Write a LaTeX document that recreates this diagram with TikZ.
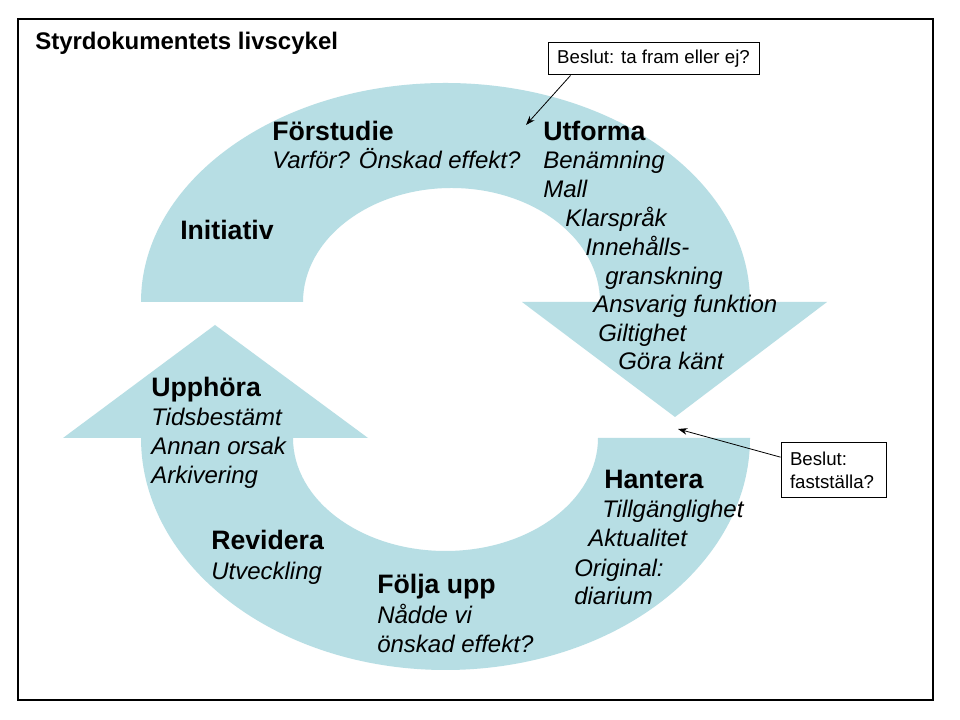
\documentclass[tikz,border=0pt]{standalone}
\usepackage{fontspec}
\setmainfont{Liberation Sans}
\usetikzlibrary{arrows.meta}
\definecolor{cyc}{RGB}{183,222,228}
\begin{document}
\begin{tikzpicture}[x=0.75pt,y=0.75pt,
 hd/.style={anchor=base west,inner sep=0pt,font=\fontsize{20}{24}\selectfont\bfseries},
 it/.style={anchor=base west,inner sep=0pt,font=\fontsize{18}{21.6}\selectfont\itshape},
 callout/.style={draw,line width=0.75pt,inner sep=0pt,font=\fontsize{14}{17}\selectfont},
 pointer/.style={-{Stealth[length=7pt,width=5pt]},line width=0.6pt}]
\useasboundingbox (0,0) rectangle (960,720);
\fill[white] (0,0) rectangle (960,720);
\draw[line width=1pt] (18,20) rectangle (933,701);
% upper half with downward arrowhead
\fill[cyc] (141,418) arc[start angle=180,end angle=0,x radius=304.5,y radius=219]
  -- (827,418) -- (675,303) -- (522,418) -- (600,418)
  arc[start angle=0,end angle=180,x radius=148.5,y radius=114] -- cycle;
% lower half with upward arrowhead
\fill[cyc] (750,282) arc[start angle=0,end angle=-180,x radius=304.5,y radius=232]
  -- (63,282) -- (215,395) -- (368,282) -- (293,282)
  arc[start angle=180,end angle=360,x radius=152.5,y radius=113] -- cycle;
% title
\node[anchor=base west,inner sep=0pt,font=\fontsize{18}{21.6}\selectfont\bfseries] (title) at (35,670) {Styrdokumentets livscykel};
% Förstudie
\node[hd] (fs) at (272,579) {Förstudie};
\node[it] (fs1) at (272,551) {Varför? Önskad effekt?};
% Utforma
\node[hd] (ut) at (543,579) {Utforma};
\node[it] (ut1) at (543,551) {Benämning};
\node[it] (ut2) at (543,522) {Mall};
\node[it] (ut3) at (565,493) {Klarspråk};
\node[it] (ut4) at (585,464) {Innehålls-};
\node[it] (ut5) at (605,435) {granskning};
\node[it] (ut6) at (593,407) {Ansvarig funktion};
\node[it] (ut7) at (598,378) {Giltighet};
\node[it] (ut8) at (618,350) {Göra känt};
% Initiativ
\node[hd] (ini) at (180,480) {Initiativ};
% Upphöra
\node[hd] (up) at (151,323) {Upphöra};
\node[it] (up1) at (151,294) {Tidsbestämt};
\node[it] (up2) at (151,265) {Annan orsak};
\node[it] (up3) at (151,236) {Arkivering};
% Hantera
\node[hd] (ha) at (604,231) {Hantera};
\node[it] (ha1) at (602,202) {Tillgänglighet};
\node[it] (ha2) at (588,173) {Aktualitet};
\node[it] (ha3) at (574,143) {Original:};
\node[it] (ha4) at (574,115) {diarium};
% Revidera
\node[hd] (re) at (211,170) {Revidera};
\node[it] (re1) at (211,140) {Utveckling};
% Följa upp
\node[hd] (fu) at (377,126) {Följa upp};
\node[it] (fu1) at (377,96) {Nådde vi};
\node[it] (fu2) at (377,67) {önskad effekt?};
% callouts
\node[callout,minimum width=158.25pt,minimum height=24pt] (b1) at (653.5,661) {Beslut: ta fram eller ej?};
\node[callout,minimum width=78.75pt,minimum height=41.25pt,inner xsep=6.75pt,text width=65.25pt,align=left] (b2) at (833.5,249.5) {Beslut:\\fastställa?};
\coordinate (t1) at (526,595);
\coordinate (t2) at (678,291);
\draw[pointer] ([xshift=17.25pt]b1.south west) -- (t1);
\draw[pointer] ([yshift=10pt]b2.west) -- (t2);
\end{tikzpicture}
\end{document}
